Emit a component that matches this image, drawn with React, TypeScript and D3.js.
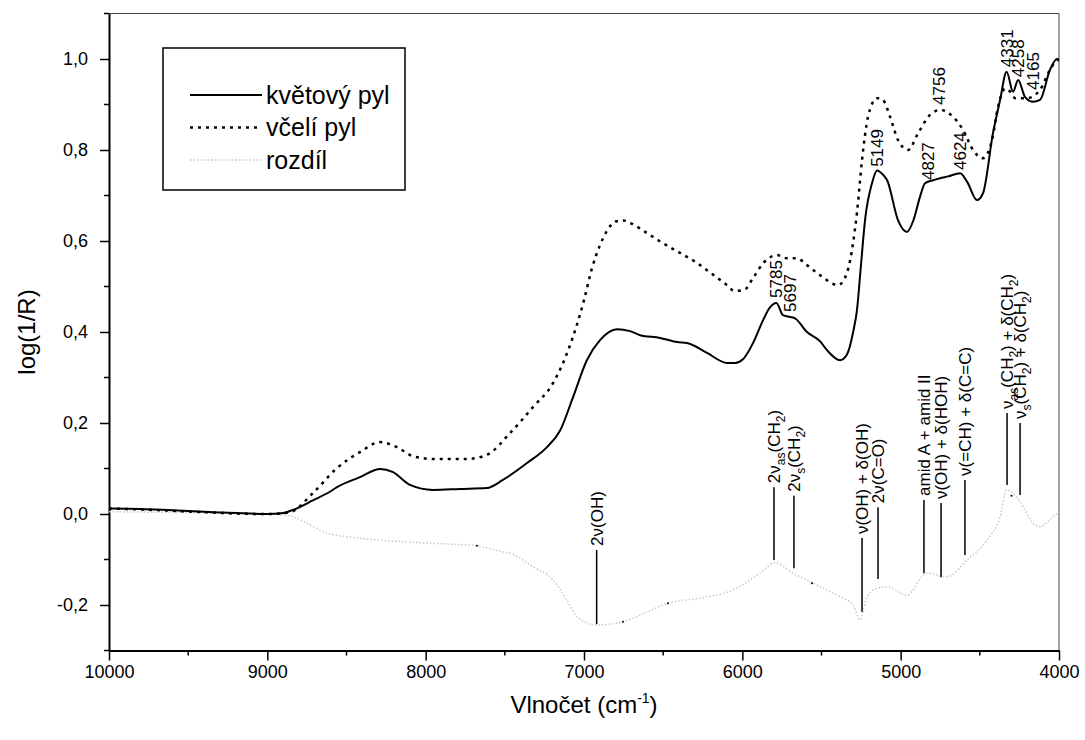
import React, { useEffect, useRef } from "react";
import * as d3 from "d3";

// květový pyl (solid) - [wavenumber, log(1/R)]
const kvetovyPyl: [number, number][] = [
  [10000, 0.012], [9800, 0.011], [9600, 0.008], [9400, 0.005], [9200, 0.002],
  [9000, 0.0], [8900, 0.002], [8838, 0.009], [8712, 0.03], [8600, 0.05],
  [8560, 0.059], [8415, 0.081], [8288, 0.099], [8206, 0.092], [8099, 0.064],
  [7954, 0.053], [7783, 0.055], [7613, 0.057], [7512, 0.075], [7360, 0.112],
  [7234, 0.147], [7150, 0.184], [7069, 0.257], [6982, 0.338], [6899, 0.382],
  [6792, 0.406], [6709, 0.402], [6646, 0.393], [6520, 0.387], [6413, 0.378],
  [6349, 0.376], [6223, 0.354], [6097, 0.332], [6046, 0.332], [5996, 0.34],
  [5932, 0.376], [5869, 0.426], [5830, 0.452], [5785, 0.464], [5743, 0.437],
  [5697, 0.433], [5667, 0.43], [5592, 0.4], [5510, 0.38], [5465, 0.36],
  [5383, 0.338], [5340, 0.35], [5300, 0.4], [5276, 0.448], [5250, 0.55],
  [5225, 0.646], [5181, 0.727], [5149, 0.755], [5110, 0.745], [5086, 0.734],
  [5017, 0.646], [4960, 0.62], [4920, 0.645], [4878, 0.697], [4846, 0.727],
  [4800, 0.733], [4751, 0.738], [4700, 0.742], [4625, 0.749], [4580, 0.73],
  [4518, 0.69], [4480, 0.705], [4417, 0.837], [4372, 0.91], [4331, 0.972],
  [4290, 0.928], [4258, 0.954], [4215, 0.917], [4165, 0.906], [4120, 0.91],
  [4057, 0.976], [4013, 1.0], [4000, 0.998],
];

// včelí pyl (dotted)
const vceliPyl: [number, number][] = [
  [10000, 0.012], [9800, 0.01], [9600, 0.007], [9400, 0.004], [9200, 0.001],
  [9000, 0.0], [8857, 0.004], [8712, 0.046], [8560, 0.101], [8415, 0.136],
  [8288, 0.158], [8181, 0.147], [8080, 0.127], [7954, 0.121], [7740, 0.121],
  [7613, 0.13], [7467, 0.178], [7322, 0.235], [7195, 0.288], [7100, 0.36],
  [7000, 0.47], [6950, 0.54], [6900, 0.59], [6850, 0.625], [6800, 0.643],
  [6750, 0.645], [6700, 0.638], [6600, 0.617], [6500, 0.595], [6400, 0.575],
  [6300, 0.555], [6200, 0.53], [6097, 0.503], [6050, 0.49], [5983, 0.494],
  [5930, 0.52], [5869, 0.551], [5781, 0.569], [5718, 0.562], [5655, 0.562],
  [5592, 0.547], [5510, 0.525], [5396, 0.503], [5339, 0.53], [5301, 0.595],
  [5276, 0.662], [5244, 0.778], [5206, 0.873], [5150, 0.914], [5112, 0.91],
  [5067, 0.873], [5017, 0.822], [4953, 0.8], [4890, 0.837], [4815, 0.877],
  [4751, 0.888], [4669, 0.873], [4606, 0.844], [4543, 0.8], [4480, 0.782],
  [4423, 0.822], [4385, 0.895], [4340, 0.935], [4300, 0.925], [4278, 0.914],
  [4202, 0.914], [4120, 0.932], [4057, 0.976], [4006, 0.998], [4000, 0.998],
];

// rozdíl (difference, faint dotted)
const rozdil: [number, number][] = [
  [10000, 0.005], [9500, 0.003], [9000, 0.0], [8850, -0.005], [8750, -0.02],
  [8623, -0.042], [8450, -0.052], [8307, -0.057], [7992, -0.064], [7676, -0.07],
  [7530, -0.082], [7467, -0.086], [7322, -0.116], [7195, -0.145], [7107, -0.19],
  [7044, -0.226], [6924, -0.244], [6754, -0.237], [6600, -0.215], [6470, -0.196],
  [6267, -0.185], [6059, -0.167], [5888, -0.13], [5794, -0.107], [5680, -0.13],
  [5554, -0.152], [5383, -0.182], [5300, -0.2], [5257, -0.233], [5220, -0.19],
  [5175, -0.167], [5086, -0.16], [4960, -0.178], [4834, -0.13], [4707, -0.138],
  [4581, -0.101], [4455, -0.057], [4372, -0.006], [4331, 0.053], [4246, 0.027],
  [4165, -0.02], [4120, -0.028], [4050, -0.01], [4000, 0.005],
];

const rozdilMarks: [number, number][] = [
  [7676, -0.07], [6754, -0.237], [6470, -0.196], [5560, -0.152], [4300, 0.04],
];

const xTicks = [10000, 9000, 8000, 7000, 6000, 5000, 4000];
const yTicks = [-0.2, 0, 0.2, 0.4, 0.6, 0.8, 1.0];

// peak numbers: [label, wavenumber, y where text starts]
const peakLabels: [string, number, number][] = [
  ["5785", 5785, 0.475], ["5697", 5697, 0.444], ["5149", 5149, 0.763],
  ["4827", 4827, 0.734], ["4624", 4624, 0.756], ["4756", 4756, 0.899],
  ["4331", 4331, 0.982], ["4258", 4258, 0.96], ["4165", 4165, 0.932],
];

// band assignments: text pieces [text, subscript?]
const bands: { w: number; top: number; bottom: number; text: [string, number][] }[] = [
  { w: 6920, top: -0.079, bottom: -0.242, text: [["2ν(OH)", 0]] },
  { w: 5800, top: 0.059, bottom: -0.101, text: [["2ν", 0], ["as", 1], ["(CH", 0], ["2", 1], [")", 0]] },
  { w: 5674, top: 0.04, bottom: -0.119, text: [["2ν", 0], ["s", 1], ["(CH", 0], ["2", 1], [")", 0]] },
  { w: 5244, top: -0.053, bottom: -0.215, text: [["ν(OH) + δ(OH)", 0]] },
  { w: 5143, top: 0.015, bottom: -0.143, text: [["2ν(C=O)", 0]] },
  { w: 4853, top: 0.031, bottom: -0.13, text: [["amid A + amid II", 0]] },
  { w: 4745, top: 0.024, bottom: -0.139, text: [["ν(OH) + δ(HOH)", 0]] },
  { w: 4594, top: 0.075, bottom: -0.09, text: [["ν(=CH) + δ(C=C)", 0]] },
  { w: 4328, top: 0.222, bottom: 0.064, text: [["ν", 0], ["as", 1], ["(CH", 0], ["2", 1], [") + δ(CH", 0], ["2", 1], [")", 0]] },
  { w: 4246, top: 0.2, bottom: 0.042, text: [["ν", 0], ["s", 1], ["(CH", 0], ["2", 1], [") + δ(CH", 0], ["2", 1], [")", 0]] },
];

const legendItems = [
  { name: "květový pyl", dash: null, color: "#000", width: 2 },
  { name: "včelí pyl", dash: "3,5", color: "#000", width: 2.5 },
  { name: "rozdíl", dash: "1.5,2", color: "#c8c8c8", width: 1.5 },
];

const fmt = (v: number) => (Math.abs(v) < 1e-9 ? "0,0" : v.toFixed(1).replace(".", ","));

const App = () => {
  const ref = useRef<SVGSVGElement>(null);

  useEffect(() => {
    const svg = d3.select(ref.current);
    svg.selectAll("*").remove();
    const font = "'Liberation Sans', Arial, sans-serif";

    const left = 109, right = 1059, top = 13.5, bottom = 650.5;
    const x = d3.scaleLinear().domain([10000, 4000]).range([left, right]);
    const y = d3.scaleLinear().domain([-0.3, 1.1]).range([bottom, top]);

    // frame top / right
    svg.append("line").attr("x1", left).attr("x2", right).attr("y1", top).attr("y2", top)
      .attr("stroke", "#444").attr("stroke-width", 1);
    svg.append("line").attr("x1", right).attr("x2", right).attr("y1", top).attr("y2", bottom)
      .attr("stroke", "#444").attr("stroke-width", 1);

    // minor ticks
    const xMinor = d3.range(9500, 4000, -1000);
    svg.append("g").selectAll("line").data(xMinor).join("line")
      .attr("x1", (d) => x(d)).attr("x2", (d) => x(d))
      .attr("y1", bottom).attr("y2", bottom + 5)
      .attr("stroke", "#000").attr("stroke-width", 1.5);
    const yMinor = [-0.3, -0.1, 0.1, 0.3, 0.5, 0.7, 0.9, 1.1];
    svg.append("g").selectAll("line").data(yMinor).join("line")
      .attr("x1", left - 5).attr("x2", left)
      .attr("y1", (d) => y(d)).attr("y2", (d) => y(d))
      .attr("stroke", "#000").attr("stroke-width", 1.5);

    // x axis
    const xAxis = svg.append("g")
      .attr("transform", `translate(0,${bottom})`)
      .call(d3.axisBottom(x).tickValues(xTicks).tickSize(10).tickSizeOuter(0).tickPadding(5).tickFormat((d) => String(d)));
    xAxis.select(".domain").attr("stroke-width", 2);
    xAxis.selectAll(".tick line").attr("stroke-width", 1.5);
    xAxis.selectAll("text").attr("font-family", font).attr("font-size", 18).attr("fill", "#000");

    // y axis
    const yAxis = svg.append("g")
      .attr("transform", `translate(${left},0)`)
      .call(d3.axisLeft(y).tickValues(yTicks).tickSize(9).tickSizeOuter(0).tickPadding(12).tickFormat((d) => fmt(d as number)));
    yAxis.select(".domain").attr("stroke-width", 2);
    yAxis.selectAll(".tick line").attr("stroke-width", 1.5);
    yAxis.selectAll("text").attr("font-family", font).attr("font-size", 18).attr("fill", "#000");

    // axis titles
    const xt = svg.append("text")
      .attr("x", (left + right) / 2).attr("y", 713)
      .attr("text-anchor", "middle").attr("font-family", font).attr("font-size", 24);
    xt.append("tspan").text("Vlnočet (cm");
    xt.append("tspan").attr("font-size", 14).attr("dy", -10).text("-1");
    xt.append("tspan").attr("dy", 10).text(")");

    svg.append("text")
      .attr("transform", `translate(35,${(top + bottom) / 2}) rotate(-90)`)
      .attr("text-anchor", "middle").attr("font-family", font).attr("font-size", 24)
      .text("log(1/R)");

    // lines
    const line = d3.line<[number, number]>()
      .x((d) => x(d[0])).y((d) => y(d[1]))
      .curve(d3.curveMonotoneX);

    svg.append("path").datum(rozdil).attr("d", line)
      .attr("fill", "none").attr("stroke", "#c8c8c8").attr("stroke-width", 1.5)
      .attr("stroke-dasharray", "1.5,2");
    svg.append("g").selectAll("circle").data(rozdilMarks).join("circle")
      .attr("cx", (d) => x(d[0])).attr("cy", (d) => y(d[1])).attr("r", 1)
      .attr("fill", "#000");
    svg.append("path").datum(vceliPyl).attr("d", line)
      .attr("fill", "none").attr("stroke", "#000").attr("stroke-width", 2.5)
      .attr("stroke-dasharray", "3,5");
    svg.append("path").datum(kvetovyPyl).attr("d", line)
      .attr("fill", "none").attr("stroke", "#000").attr("stroke-width", 2);

    // peak labels
    svg.append("g").selectAll("text").data(peakLabels).join("text")
      .attr("transform", (d) => `translate(${x(d[1])},${y(d[2])}) rotate(-90)`)
      .attr("dy", "0.35em").attr("font-family", font).attr("font-size", 17)
      .text((d) => d[0]);

    // band assignment lines + labels
    const bg = svg.append("g");
    bands.forEach((b) => {
      bg.append("line")
        .attr("x1", x(b.w)).attr("x2", x(b.w))
        .attr("y1", y(b.top)).attr("y2", y(b.bottom))
        .attr("stroke", "#000").attr("stroke-width", 1.5);
      const t = bg.append("text")
        .attr("transform", `translate(${x(b.w)},${y(b.top) - 4}) rotate(-90)`)
        .attr("font-family", font).attr("font-size", 17);
      let shift = 0;
      b.text.forEach(([s, sub], i) => {
        const want = sub ? 5 : 0;
        const ts = t.append("tspan").attr("dy", i === 0 ? 6 + want : want - shift).text(s);
        if (sub) ts.attr("font-size", 12);
        shift = want;
      });
    });

    // legend
    const lg = svg.append("g");
    lg.append("rect").attr("x", 163).attr("y", 48).attr("width", 242).attr("height", 142)
      .attr("fill", "#fff").attr("stroke", "#000").attr("stroke-width", 1.5);
    legendItems.forEach((it, i) => {
      const yy = 95 + i * 32.5;
      lg.append("line").attr("x1", 190).attr("x2", 262).attr("y1", yy).attr("y2", yy)
        .attr("stroke", it.color).attr("stroke-width", it.width)
        .attr("stroke-dasharray", it.dash);
      lg.append("text").attr("x", 266).attr("y", yy).attr("dy", "0.35em")
        .attr("font-family", font).attr("font-size", 25).text(it.name);
    });
  }, []);

  return (
    <svg
      ref={ref}
      width={1085}
      height={740}
      style={{ position: "absolute", left: 0, top: 0, background: "#fff" }}
    />
  );
};

export default App;
